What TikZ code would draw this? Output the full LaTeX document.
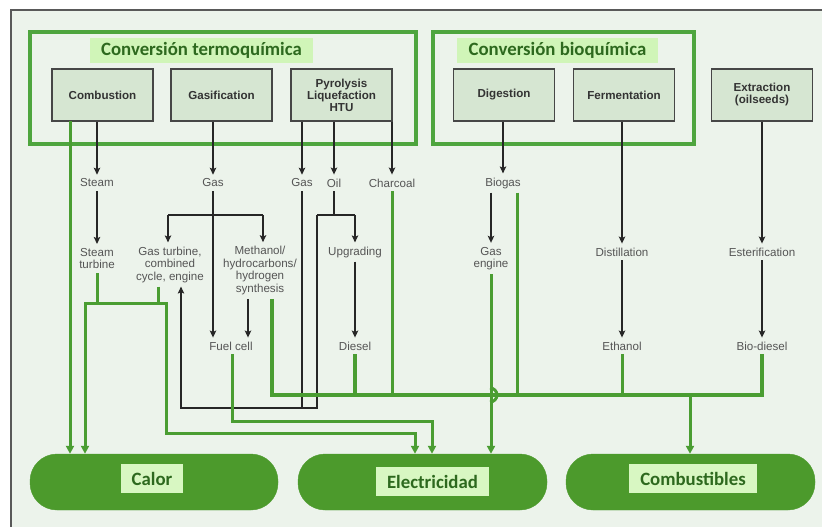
\documentclass[tikz,border=0pt]{standalone}
\usepackage{fontspec}
\setmainfont{Liberation Sans}
\newfontfamily\ttlfont{Carlito}
\usetikzlibrary{arrows.meta,calc}
\definecolor{bgc}{RGB}{236,243,235}
\definecolor{gline}{RGB}{74,157,50}
\definecolor{pillc}{RGB}{76,154,44}
\definecolor{framec}{RGB}{78,165,62}
\definecolor{titlebg}{RGB}{208,245,184}
\definecolor{labbg}{RGB}{216,247,194}
\definecolor{boxfill}{RGB}{214,230,210}
\definecolor{boxdraw}{RGB}{70,70,70}
\definecolor{dgreen}{RGB}{45,105,30}
\definecolor{txtgrey}{RGB}{85,85,85}
\tikzset{
 procbox/.style={draw=boxdraw, line width=1.1pt, fill=boxfill, minimum width=101pt, minimum height=52pt, align=center, font=\fontsize{11.6}{12}\selectfont\bfseries, text=black!80, inner sep=1pt},
 lab/.style={font=\fontsize{11.6}{12.5}\selectfont, text=txtgrey, align=center, inner xsep=1pt, inner ysep=4pt},
 blk/.style={draw=black!85, line width=1.1pt, -{Stealth[length=7pt,width=6.5pt,inset=1.5pt]}},
 blkl/.style={draw=black!85, line width=1.1pt},
 grn/.style={draw=gline, line width=3pt},
 grna/.style={grn, -{Triangle[length=8pt,width=8pt]}},
 groupbox/.style={draw=framec, line width=4pt},
 ttl/.style={fill=titlebg, font=\ttlfont\fontsize{18.8}{20}\selectfont\bfseries, text=dgreen, inner sep=0pt, minimum height=25pt},
 pill/.style={fill=pillc, draw=pillc, rounded corners=27pt, minimum height=56pt},
 pilllab/.style={fill=labbg, font=\ttlfont\fontsize{18.8}{20}\selectfont\bfseries, text=dgreen, minimum height=29pt, inner sep=0pt}
}
\begin{document}
\begin{tikzpicture}[x=1pt,y=-1pt]
\useasboundingbox (0,0) rectangle (822,527);
\fill[bgc] (11,10) rectangle (822,527);
\draw[black!65, line width=1.2pt] (11,527) -- (11,10) -- (822,10);

% group frames
\node[groupbox, minimum width=386pt, minimum height=112pt] (thermo) at (223,88) {};
\node[groupbox, minimum width=261pt, minimum height=112pt] (bio) at (563.5,88) {};
\node[ttl, minimum width=223pt] (thermottl) at (201.5,50.5) {Conversión termoquímica};
\node[ttl, minimum width=201pt] (biottl) at (557.5,50.5) {Conversión bioquímica};

% process boxes
\node[procbox] (comb) at (102.5,95) {Combustion};
\node[procbox] (gasif) at (221.5,95) {Gasification};
\node[procbox] (pyro) at (341.5,95) {Pyrolysis\\Liquefaction\\HTU};
\node[procbox] (dig) at (504,95) {Digestion};
\node[procbox] (ferm) at (624,95) {Fermentation};
\node[procbox] (extr) at (762,95) {Extraction\\(oilseeds)};

% output pills
\node[pill, minimum width=248pt] (calor) at (154,482) {};
\node[pill, minimum width=249pt] (elec) at (422.5,482) {};
\node[pill, minimum width=249pt] (fuels) at (690.5,482) {};
\node[pilllab, minimum width=62pt] (calorlab) at (152,478.5) {Calor};
\node[pilllab, minimum width=113pt] (eleclab) at (432.5,481.5) {Electricidad};
\node[pilllab, minimum width=128pt] (fuelslab) at (693,478.5) {Combustibles};

% labels
\node[lab] (steam) at (97,183) {Steam};
\node[lab] (gasA) at (213,183) {Gas};
\node[lab] (gasB) at (302,183) {Gas};
\node[lab] (oil) at (334,183) {Oil};
\node[lab] (charcoal) at (392,183) {Charcoal};
\node[lab] (biogas) at (503,183) {Biogas};
\node[lab] (steamturb) at (97,258.5) {Steam\\turbine};
\node[lab] (gasturb) at (170,264.5) {Gas turbine,\\combined\\cycle, engine};
\node[lab] (methanol) at (260,270.5) {Methanol/\\hydrocarbons/\\hydrogen\\synthesis};
\node[lab] (upgrading) at (355,252) {Upgrading};
\node[lab] (gasengine) at (491,258.5) {Gas\\engine};
\node[lab] (distil) at (622,252) {Distillation};
\node[lab] (ester) at (762,252) {Esterification};
\node[lab] (fuelcell) at (231,346) {Fuel cell};
\node[lab] (diesel) at (355,346) {Diesel};
\node[lab] (ethanol) at (622,346) {Ethanol};
\node[lab] (biodiesel) at (762,346) {Bio-diesel};

% junction coordinates
\coordinate (brL) at (168,215);
\coordinate (brR) at (263,215);
\coordinate (oilj) at (334,215);
\coordinate (oilL) at (317,215);
\coordinate (oilR) at (355,215);
\coordinate (loopB) at (317,408);
\coordinate (loopA) at (181,408);
\coordinate (synx) at (248,300);
\coordinate (cg) at (70,121);
\coordinate (stj) at (97,303);
\coordinate (hL) at (85,303);
\coordinate (hR) at (166,303);
\coordinate (gtj) at (158,303);
\coordinate (e1) at (166,433);
\coordinate (e2) at (415,433);
\coordinate (f1) at (232,421);
\coordinate (f2) at (432,421);
\coordinate (b0) at (272,395);
\coordinate (b1) at (762,395);
\coordinate (bg) at (517,395);
\coordinate (cb) at (690,395);
\coordinate (hop) at (490,388);

% black connectors
\draw[blk] (comb.south -| steam.north) -- (steam.north);
\draw[blk] (gasif.south -| gasA.north) -- (gasA.north);
\draw[blk] (pyro.south -| gasB.north) -- (gasB.north);
\draw[blk] (pyro.south -| oil.north) -- (oil.north);
\draw[blk] (pyro.south -| charcoal.north) -- (charcoal.north);
\draw[blk] (dig.south -| biogas.north) -- (biogas.north);
\draw[blk] (ferm.south -| distil.north) -- (distil.north);
\draw[blk] (extr.south -| ester.north) -- (ester.north);
\draw[blk] (steam.south) -- (steamturb.north);
\draw[blk] (gasA.south) -- (gasA.south |- fuelcell.north);
\draw[blkl] (brL) -- (brR);
\draw[blk] (brL) -- (brL |- gasturb.north);
\draw[blk] (brR) -- (brR |- methanol.north);
\draw[blk] (methanol.south -| synx) -- (synx |- fuelcell.north);
\draw[blkl] (oil.south) -- (oilj);
\draw[blkl] (oilL) -- (oilR);
\draw[blk] (oilR) -- (upgrading.north);
\draw[blk] (oilL) -- (loopB) -- (loopA) -- (loopA |- gasturb.south);
\draw[blkl] (gasB.south) -- (gasB.south |- loopB);
\draw[blk] (upgrading.south) -- (diesel.north);
\draw[blk] (biogas.south -| gasengine.north) -- (gasengine.north);
\draw[blk] (distil.south) -- (ethanol.north);
\draw[blk] (ester.south) -- (biodiesel.north);

% green connectors
\draw[grna] (cg) -- (cg |- calor.north);
\draw[grn] (steamturb.south) -- (stj);
\draw[grn] (gasturb.south -| gtj) -- (gtj);
\draw[grna] (hR) -- (hL) -- (hL |- calor.north);
\draw[grna] (hL) -- (hR) -- (e1) -- (e2) -- (e2 |- elec.north);
\draw[grna] (fuelcell.south -| f1) -- (f1) -- (f2) -- (f2 |- elec.north);
\draw[grna] (gasengine.south) -- (gasengine.south |- elec.north);
\draw[grn, line width=4pt] (methanol.south -| b0) -- (b0) -- (b1) -- (b1 |- biodiesel.south);
\draw[grn, line width=4pt] (diesel.south) -- (diesel.south |- b0);
\draw[grn] (charcoal.south) -- (charcoal.south |- b0);
\draw[grn] (biogas.south -| bg) -- (bg);
\draw[grn] (ethanol.south) -- (ethanol.south |- b0);
\draw[grna] (cb) -- (cb |- fuels.north);
\draw[grn] (hop) arc[start angle=90, end angle=-90, radius=7pt];
\end{tikzpicture}
\end{document}
